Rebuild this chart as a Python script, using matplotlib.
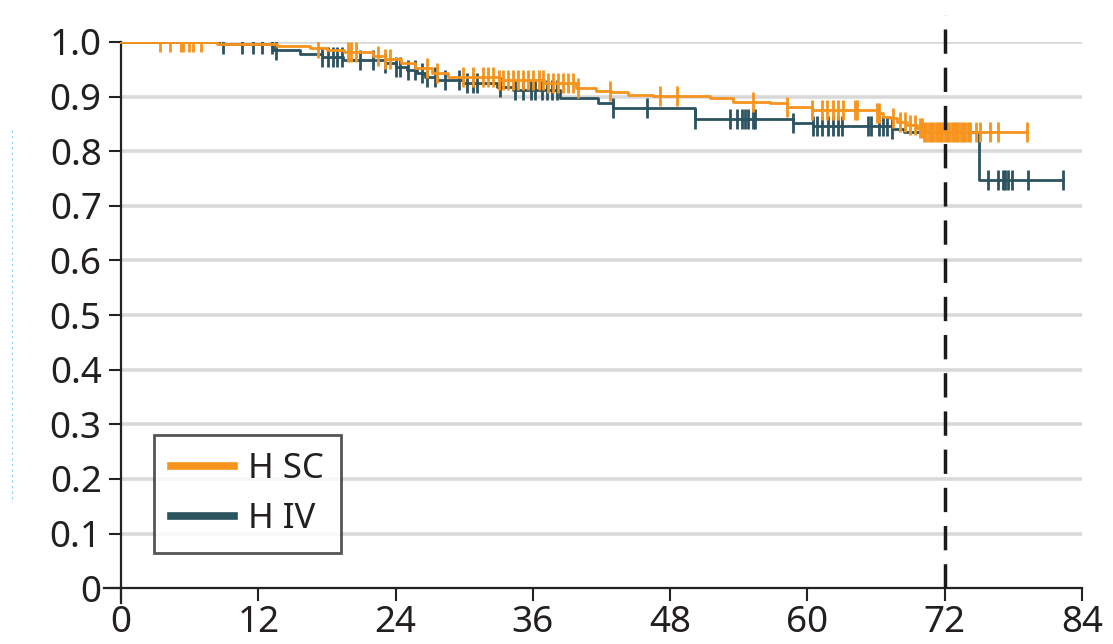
import numpy as np
import matplotlib.pyplot as plt
from matplotlib.lines import Line2D

# Kaplan-Meier step curves (months, survival)
sc_times = [0, 8.4, 13.6, 16.5, 18.0, 19.5, 22.0, 23.1, 24.5, 25.7, 27.2, 28.6,
            33.0, 37.0, 39.8, 41.5, 42.8, 44.3, 46.5, 51.5, 53.5, 56.7, 58.2,
            60.4, 66.1, 66.6, 67.2, 67.8, 68.7, 69.6, 70.1]
sc_surv = [1.0, 0.996, 0.993, 0.989, 0.985, 0.982, 0.974, 0.969, 0.962, 0.952, 0.943, 0.936,
           0.930, 0.925, 0.916, 0.911, 0.908, 0.903, 0.901, 0.897, 0.891, 0.888, 0.881,
           0.876, 0.870, 0.863, 0.860, 0.853, 0.848, 0.842, 0.836]
sc_end = 79.2
sc_cens = [3.4, 4.3, 5.2, 5.4, 5.9, 6.3, 7.0, 17.2, 19.8, 20.1, 20.5, 22.5, 23.1, 23.5,
           26.7, 27.6, 29.9, 30.8, 31.6, 32.1, 32.5, 33.0, 33.4, 33.8, 34.3, 34.7, 35.1,
           35.6, 36.0, 36.5, 36.9, 37.3, 37.8, 38.2, 38.6, 39.1, 39.5, 39.9, 42.7, 47.1,
           48.6, 55.2, 58.2, 60.4, 61.3, 61.7, 62.2, 62.7, 63.1, 64.2, 64.3, 66.1, 66.3,
           67.5, 68.1, 68.5, 69.0, 69.4, 69.8, 70.0, 70.2, 70.4, 70.6, 70.8, 71.0, 71.2,
           71.4, 71.6, 71.8, 72.0, 72.2, 72.4, 72.6, 72.8, 73.0, 73.2, 73.4, 73.6, 73.8,
           74.0, 74.2, 74.7, 75.1, 76.0, 76.7, 79.2]

iv_times = [0, 8.6, 13.3, 15.6, 17.6, 19.4, 23.1, 24.0, 25.0, 25.9, 26.6, 27.6, 29.9,
            32.9, 34.3, 38.4, 41.7, 43.0, 50.2, 58.7, 60.5, 67.4, 68.4, 75.0]
iv_surv = [1.0, 0.996, 0.986, 0.978, 0.972, 0.967, 0.962, 0.954, 0.949, 0.943, 0.936, 0.930, 0.925,
           0.918, 0.912, 0.897, 0.888, 0.879, 0.859, 0.852, 0.846, 0.840, 0.836, 0.747]
iv_end = 82.3
iv_cens = [8.9, 10.6, 11.5, 12.3, 13.2, 13.5, 17.6, 18.1, 18.5, 18.9, 19.3, 20.9, 22.0,
           23.1, 24.0, 24.4, 25.1, 25.7, 26.3, 26.7, 27.4, 28.3, 29.5, 30.2, 30.8, 31.1,
           33.1, 34.4, 35.1, 35.8, 36.2, 36.8, 37.2, 37.7, 38.1, 43.0, 46.0, 50.2, 53.2,
           53.8, 54.3, 54.5, 54.8, 55.2, 55.4, 58.7, 60.5, 60.8, 61.3, 61.8, 62.2, 62.7,
           63.0, 65.3, 65.6, 66.3, 66.6, 67.0, 67.4, 75.8, 76.7, 77.1, 77.3, 77.5, 77.9,
           79.3, 82.3]

labels = ["H SC", "H IV"]
xticks = [0, 12, 24, 36, 48, 60, 72, 84]
yticks = [0, 0.1, 0.2, 0.3, 0.4, 0.5, 0.6, 0.7, 0.8, 0.9, 1.0]
ytick_labels = ["0", "0.1", "0.2", "0.3", "0.4", "0.5", "0.6", "0.7", "0.8", "0.9", "1.0"]
landmark = 72

c_sc = "#F7941D"
c_iv = "#2B5360"
txt = "#231F20"

plt.rcParams['font.family'] = ['Noto Sans', 'DejaVu Sans']

fig = plt.figure(figsize=(11.13, 6.44), dpi=100)
ax = fig.add_axes([0.0934, 0.0637, 0.9721 - 0.0934, 0.9348 - 0.0637])

# gridlines
ax.hlines(yticks[1:], 0, 84, color="#D9D9D9", lw=2.6, zorder=0)


def km(times, surv, end, cens, color, label, z):
    t = np.append(times, end)
    s = np.append(surv, surv[-1])
    ax.step(t, s, where="post", color=color, lw=2.0, label=label, zorder=z)
    idx = np.searchsorted(times, cens, side="right") - 1
    ax.plot(cens, np.asarray(surv)[idx], ls="none", marker="|", ms=15, mew=2.0,
            color=color, zorder=z)


km(iv_times, iv_surv, iv_end, iv_cens, c_iv, labels[1], 3)
km(sc_times, sc_surv, sc_end, sc_cens, c_sc, labels[0], 4)

# landmark dashed line
ax.plot([landmark, landmark], [0, 1.05], color="#1A1A1A", lw=2.5,
        dashes=(7, 4), clip_on=False, zorder=5)

ax.set_xlim(-1.5, 84)
ax.set_ylim(-0.027, 1.0)
for s in ["top", "right"]:
    ax.spines[s].set_visible(False)
ax.spines["left"].set_position(("data", 0))
ax.spines["bottom"].set_position(("data", 0))
for s in ["left", "bottom"]:
    ax.spines[s].set_linewidth(1.6)
    ax.spines[s].set_color("#222222")

ax.set_xticks(xticks)
ax.set_yticks(yticks)
ax.set_yticklabels(ytick_labels)
ax.tick_params(axis="both", direction="out", length=9, width=1.5, color="#222222",
               labelcolor=txt, labelsize=26.5, pad=5)
ax.tick_params(axis="x", pad=3)

handles = [Line2D([], [], color=c_sc, lw=5.5), Line2D([], [], color=c_iv, lw=5.5)]
leg = ax.legend(handles, labels, loc="lower left", bbox_to_anchor=(0.051, 0.089),
                borderaxespad=0, fontsize=25, frameon=True, fancybox=False,
                handlelength=1.8, handletextpad=0.4, labelspacing=0.45,
                borderpad=0.5)
leg.get_frame().set_edgecolor("#2A2A2A")
leg.get_frame().set_linewidth(2.0)
for t in leg.get_texts():
    t.set_color(txt)

# faint remnant of the cut-off axis title at the left edge
fig.add_artist(Line2D([12 / 1113, 12 / 1113], [1 - 130 / 644, 1 - 500 / 644],
                      transform=fig.transFigure, color="#8CCFEA", lw=0.8, ls=(0, (2, 3))))

fig.savefig("out.png", dpi=100)
